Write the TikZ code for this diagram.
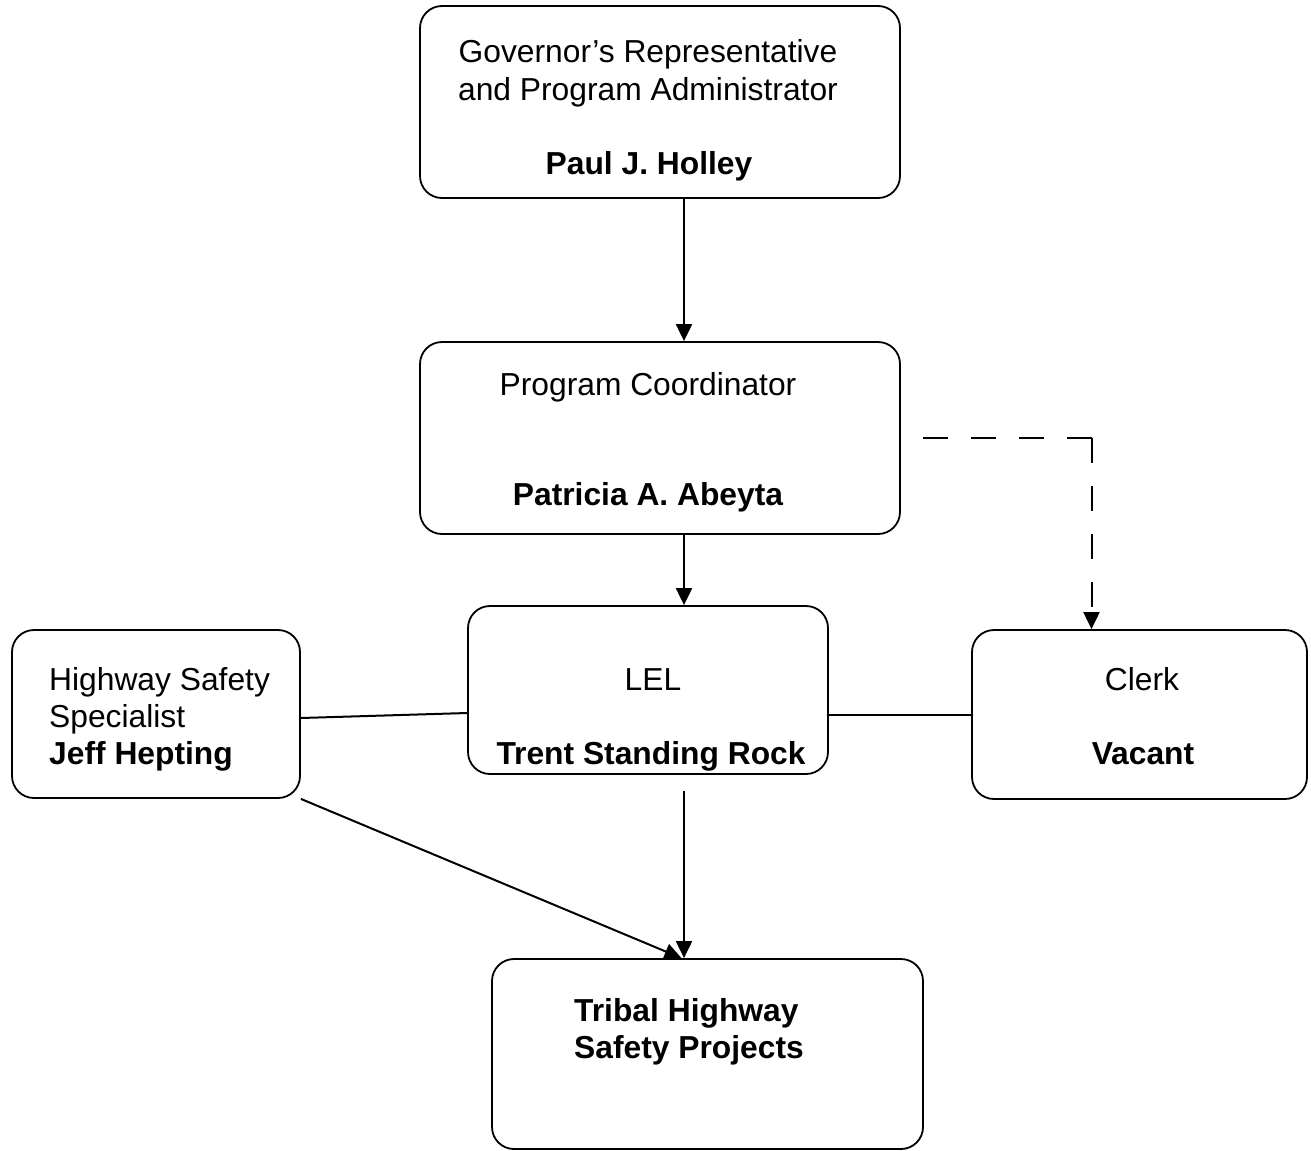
\documentclass[tikz,border=0pt]{standalone}
\usepackage{fontspec}
\setmainfont{Liberation Sans}
\usetikzlibrary{arrows.meta}

\tikzset{
  box/.style={draw, line width=1.8bp, rounded corners=22bp, inner sep=0pt},
  txt/.style={inner sep=0pt, anchor=base, font=\fontsize{31.9}{37}\selectfont},
  txtl/.style={txt, anchor=base west},
  link/.style={line width=2bp},
  dashlink/.style={link, dash pattern=on 25bp off 23bp},
}

\begin{document}
\begin{tikzpicture}[x=1bp,y=-1bp,>={Triangle[length=17bp,width=16bp]}]
  \useasboundingbox (0,0) rectangle (1311,1150);
%% boxes
  \node[box, minimum width=480bp, minimum height=192bp] (gov) at (660,102) {};
  \node[box, minimum width=480bp, minimum height=192bp] (coord) at (660,438) {};
  \node[box, minimum width=360bp, minimum height=168bp] (lel) at (648,690) {};
  \node[box, minimum width=288bp, minimum height=168bp] (hss) at (156,714) {};
  \node[box, minimum width=335bp, minimum height=169bp] (clerk) at (1139.5,714.5) {};
  \node[box, minimum width=431bp, minimum height=190bp] (tribal) at (707.5,1054) {};
  \coordinate (spine) at (684,0);
  \coordinate (bend) at ([xshift=-48bp]clerk.north |- coord.east);
%% texts
  \node[txt] (govA) at (648,62) {Governor’s Representative};
  \node[txt] (govB) at (648,100) {and Program Administrator};
  \node[txt] (govC) at (649,174) {\bfseries Paul J. Holley};
  \node[txt] (coordA) at (648,395) {Program Coordinator};
  \node[txt] (coordB) at (648,505) {\bfseries Patricia A. Abeyta};
  \node[txt] (lelA) at (653,690) {LEL};
  \node[txt] (lelB) at (651,764) {\bfseries Trent Standing Rock};
  \node[txtl] (hssA) at (49,690) {Highway Safety};
  \node[txtl] (hssB) at (49,727) {Specialist};
  \node[txtl] (hssC) at (49,764) {\bfseries Jeff Hepting};
  \node[txt] (clerkA) at (1142,690) {Clerk};
  \node[txt] (clerkB) at (1143,764) {\bfseries Vacant};
  \node[txtl] (tribalA) at (574,1021) {\bfseries Tribal Highway};
  \node[txtl] (tribalB) at (574,1058) {\bfseries Safety Projects};
%% connectors
  \draw[link,->] (gov.south -| spine) -- (coord.north -| spine);
  \draw[link,->] (coord.south -| spine) -- (lel.north -| spine);
  \draw[dashlink] ([xshift=22bp]coord.east) -- (bend);
  \draw[dashlink,->] (bend) -- ([xshift=-48bp]clerk.north);
  \draw[link] ([yshift=-4bp]hss.east) -- ([yshift=-23bp]lel.west);
  \draw[link] (lel.east |- clerk.west) -- (clerk.west);
  \draw[link,->] ([yshift=-16bp]lel.south -| spine) -- (tribal.north -| spine);
  \draw[link,->] (hss.south east) -- ([xshift=-26bp]tribal.north);
\end{tikzpicture}
\end{document}
